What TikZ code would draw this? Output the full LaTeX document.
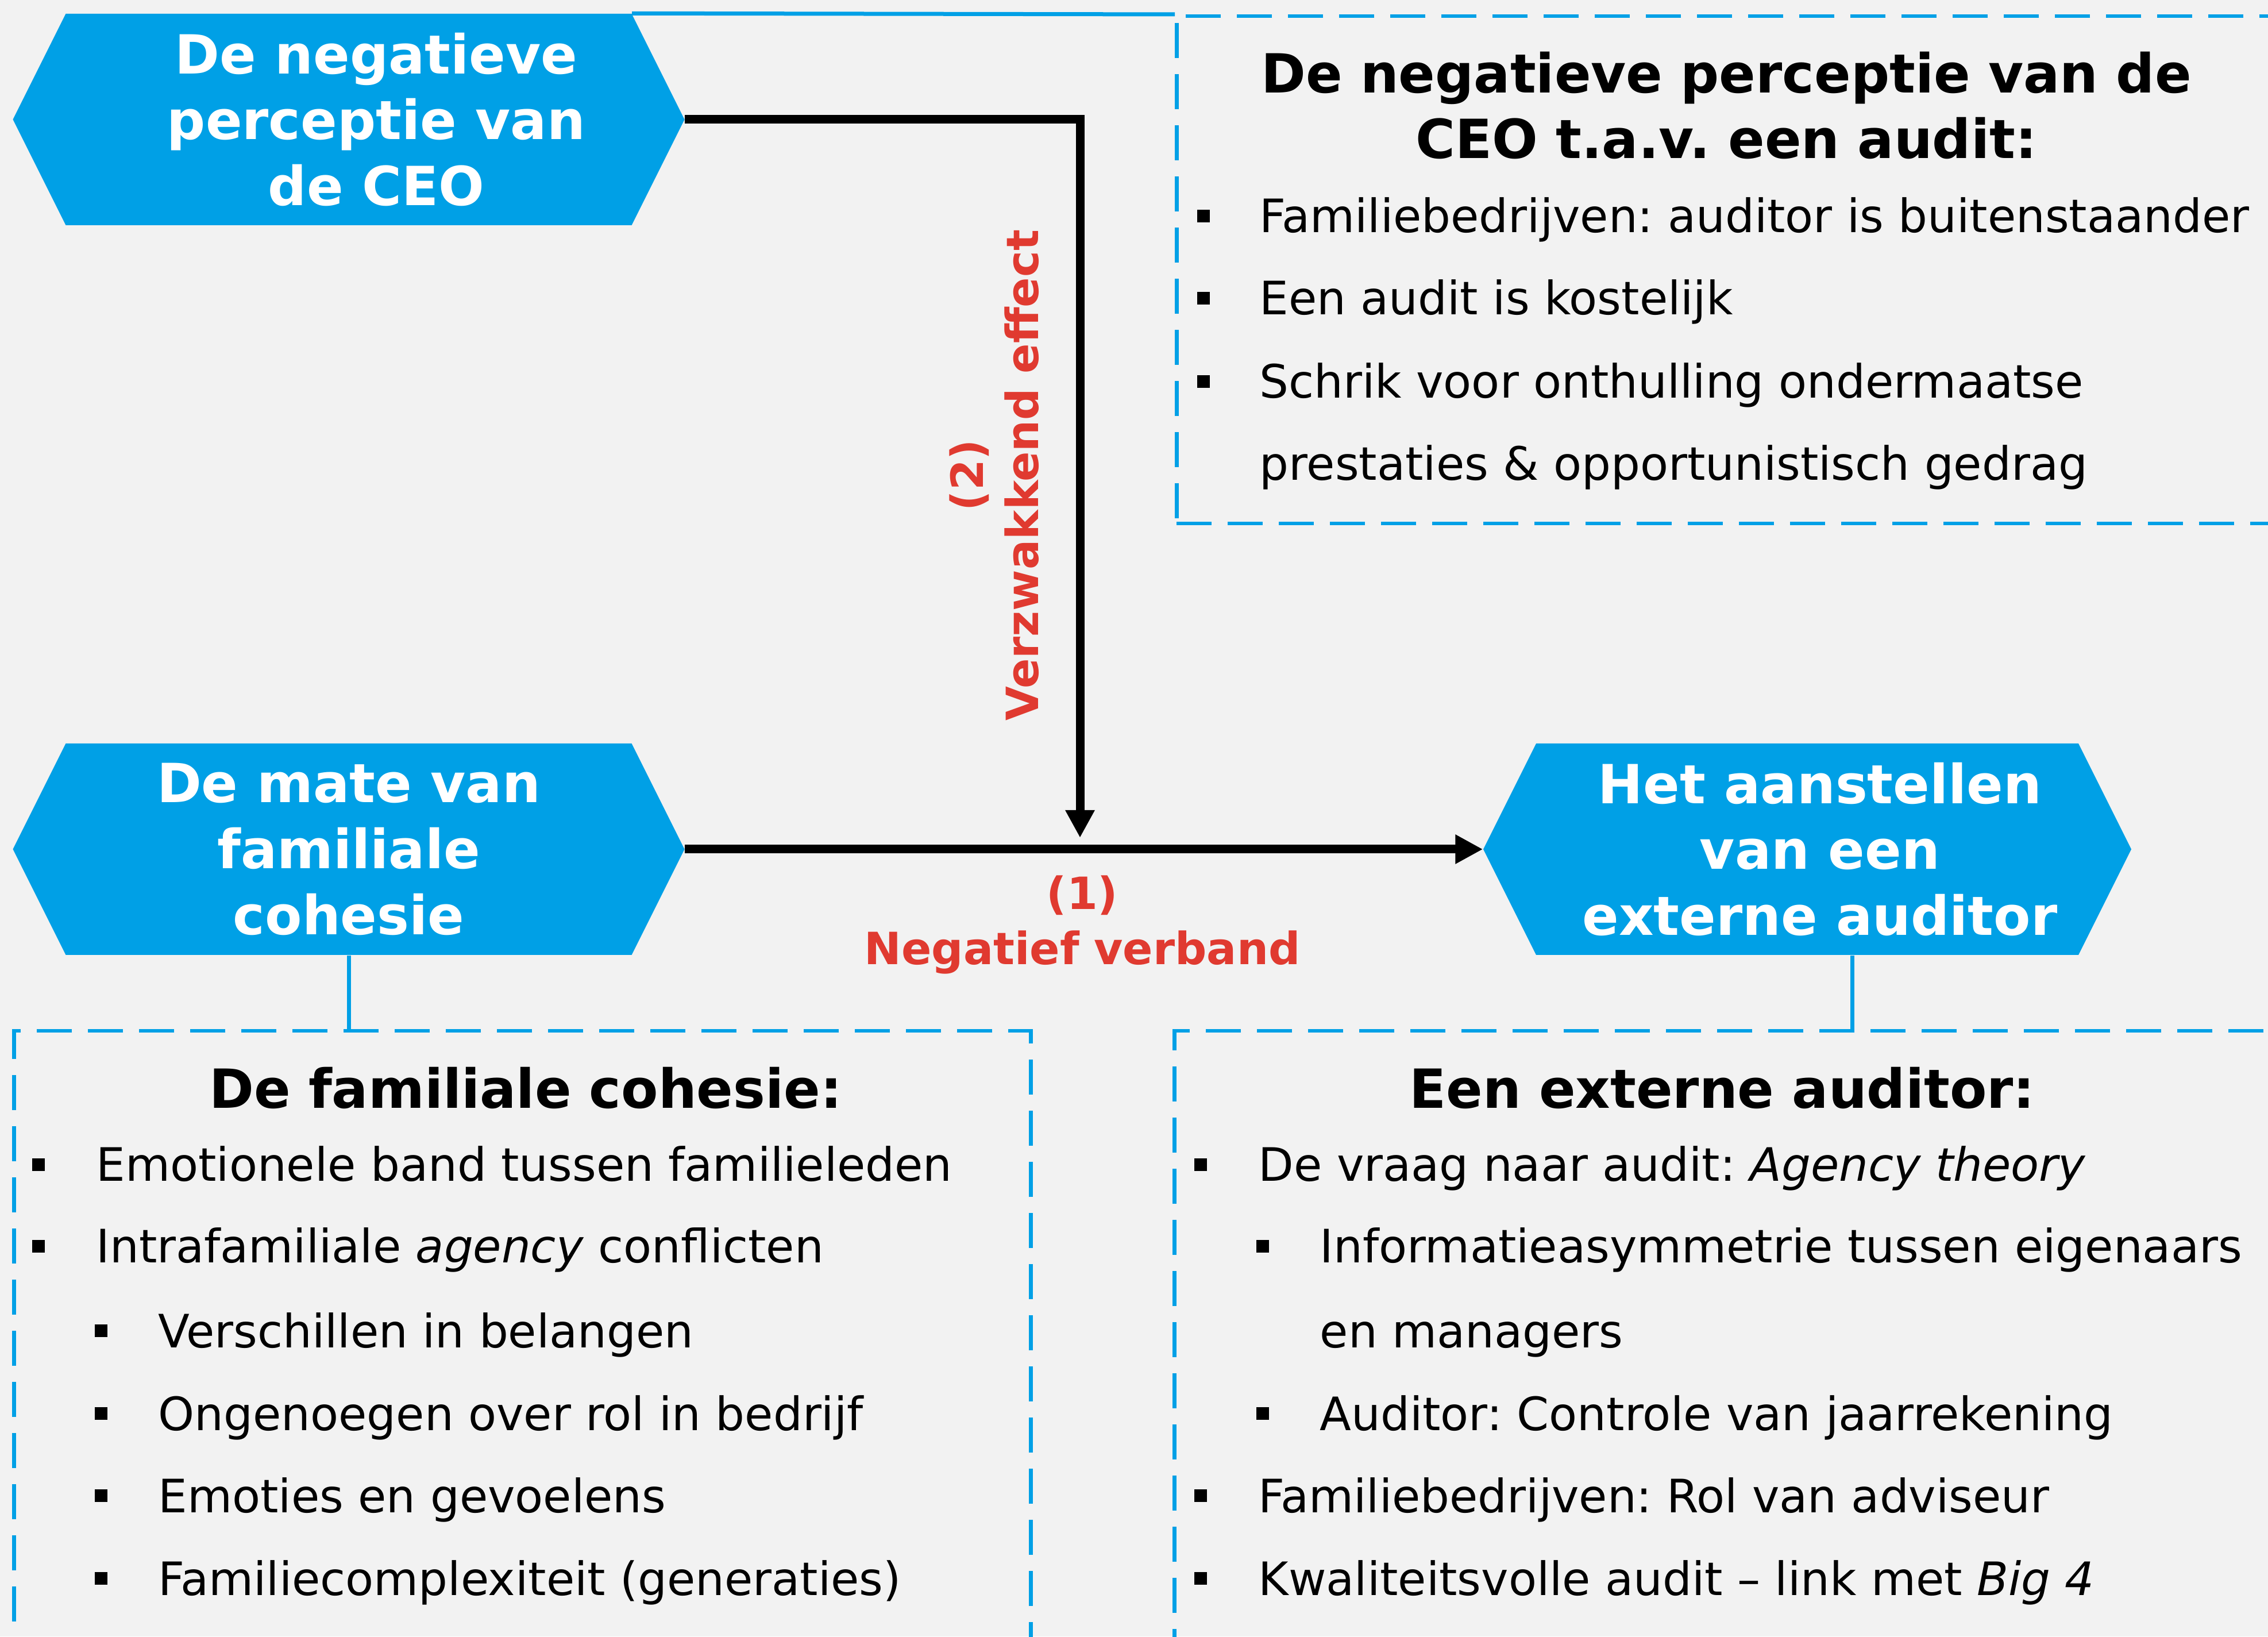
\documentclass[tikz,border=0pt]{standalone}
\usepackage{fontspec}
\setmainfont{DejaVu Sans}
\frenchspacing
\usetikzlibrary{arrows.meta,positioning}
\definecolor{auditblue}{RGB}{0,160,230}
\definecolor{effectred}{RGB}{224,58,48}
\definecolor{slidegray}{RGB}{242,242,242}

\tikzset{
  hexnode/.style={rectangle, inner sep=0pt, minimum height=3.68cm, text=white, align=center,
    font=\fontsize{26.7}{32.7}\selectfont\bfseries},
  infobox/.style={rectangle, draw=auditblue, line width=0.065cm, dash pattern=on 0.61cm off 0.28cm,
    anchor=north west, inner sep=0pt},
  linkline/.style={draw=auditblue, line width=0.07cm},
  effectline/.style={draw=black, line width=0.15cm, -{Triangle[length=0.48cm,width=0.48cm]}},
  boxtitle/.style={anchor=base, inner sep=0pt, text width=18cm, align=center,
    font=\fontsize{26.7}{32.4}\selectfont\bfseries},
  itemtext/.style={anchor=base west, inner sep=0pt, font=\fontsize{22.8}{27}\selectfont},
  redlabel/.style={inner sep=0pt, text width=10cm, align=center, text=effectred,
    font=\fontsize{22}{27.3}\selectfont\bfseries}
}

\begin{document}
\begin{tikzpicture}
\useasboundingbox (0,0) rectangle (39.48,28.48);
\clip (0,0) rectangle (39.48,28.48);
\fill[slidegray] (0,0) rectangle (39.48,28.48);

\foreach \cx/\cy/\hw in {6.07/26.40/5.845, 6.07/13.70/5.845, 31.46/13.70/5.64}
  \fill[auditblue] (\cx-\hw,\cy) -- (\cx-\hw+0.92,\cy+1.84) -- (\cx+\hw-0.92,\cy+1.84)
    -- (\cx+\hw,\cy) -- (\cx+\hw-0.92,\cy-1.84) -- (\cx-\hw+0.92,\cy-1.84) -- cycle;

\node[hexnode, minimum width=10.73cm] (ceoview) at (6.55,26.40) {De negatieve\\perceptie van\\de CEO};
\node[hexnode, minimum width=11.69cm] (cohesion) at (6.07,13.70) {De mate van\\familiale\\cohesie};
\node[hexnode, minimum width=11.72cm] (auditor) at (31.68,13.70) {Het aanstellen\\van een\\externe auditor};

\node[infobox, minimum width=20cm, minimum height=8.83cm] (ceobox) at (20.45,28.23) {};
\node[infobox, minimum width=17.70cm, minimum height=11cm] (cohbox) at (0.21,10.57) {};
\node[infobox, minimum width=20cm, minimum height=11cm] (audbox) at (20.41,10.57) {};

\draw[linkline] ([xshift=-0.92cm]ceoview.north east) -- (ceobox.north west);
\draw[linkline] (cohesion.south) -- (cohesion.south |- cohbox.north);
\draw[linkline] ([xshift=0.56cm]auditor.south) -- ([xshift=0.56cm]auditor.south |- audbox.north);

\coordinate (weakentip) at (18.80,13.90);
\draw[effectline] (ceoview.east) -| (weakentip);
\draw[effectline] (cohesion.east) -- (auditor.west);

\node[redlabel, anchor=base] (mainlabel) at (18.84,12.65) {(1)\\Negatief verband};
\node[redlabel, rotate=90] (weakenlabel) at (17.31,20.21) {(2)\\Verzwakkend effect};

\node[boxtitle] (ceotitle) at (30.05,26.86) {De negatieve perceptie van de\\CEO t.a.v. een audit:};
\node[boxtitle] (cohtitle) at (9.15,9.19) {De familiale cohesie:};
\node[boxtitle] (audtitle) at (29.98,9.19) {Een externe auditor:};

\foreach \n/\tx/\ty/\txt in {
    1/21.92/24.43/{Familiebedrijven: auditor is buitenstaander},
    2/21.92/23.00/{Een audit is kostelijk},
    3/21.92/21.55/{Schrik voor onthulling ondermaatse},
    4/21.92/20.12/{prestaties \& opportunistisch gedrag}
  }
  \node[itemtext] (ceoitem\n) at (\tx,\ty) {\txt};

\foreach \n/\tx/\ty/\txt in {
    1/1.67/7.92/{Emotionele band tussen familieleden},
    2/1.67/6.50/{Intrafamiliale \textit{agency} conflicten},
    3/2.75/5.03/{Verschillen in belangen},
    4/2.75/3.59/{Ongenoegen over rol in bedrijf},
    5/2.75/2.16/{Emoties en gevoelens},
    6/2.75/0.72/{Familiecomplexiteit (generaties)}
  }
  \node[itemtext] (cohitem\n) at (\tx,\ty) {\txt};

\foreach \n/\tx/\ty/\txt in {
    1/21.90/7.92/{De vraag naar audit: \textit{Agency theory}},
    2/22.97/6.50/{Informatieasymmetrie tussen eigenaars},
    3/22.97/5.03/{en managers},
    4/22.97/3.59/{Auditor: Controle van jaarrekening},
    5/21.90/2.16/{Familiebedrijven: Rol van adviseur},
    6/21.90/0.72/{Kwaliteitsvolle audit – link met \textit{Big 4}}
  }
  \node[itemtext] (auditem\n) at (\tx,\ty) {\txt};

\foreach \bx/\by in {20.95/24.43, 20.95/23.00, 20.95/21.55,
    0.67/7.92, 0.67/6.50, 1.76/5.03, 1.76/3.59, 1.76/2.16, 1.76/0.72,
    20.90/7.92, 21.98/6.50, 21.98/3.59, 20.90/2.16, 20.90/0.72}
  \fill (\bx-0.11,\by+0.18) rectangle (\bx+0.11,\by+0.40);
\end{tikzpicture}
\end{document}
